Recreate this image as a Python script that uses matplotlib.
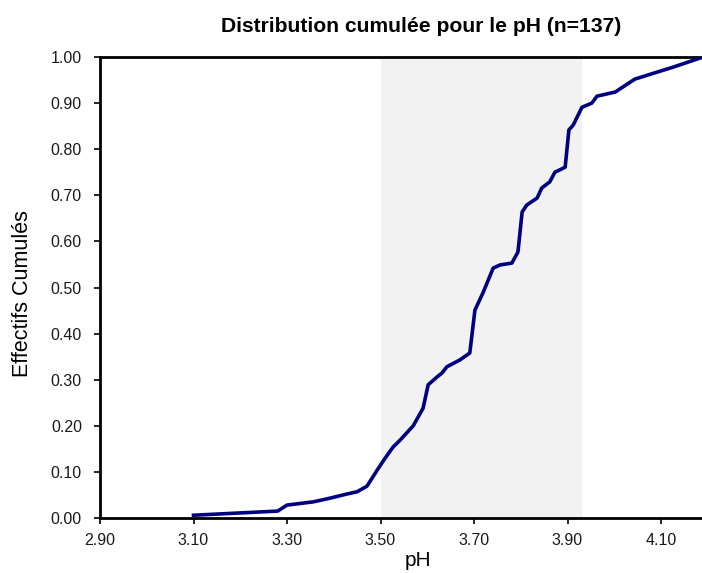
import matplotlib
matplotlib.use("Agg")
import matplotlib.pyplot as plt

# Cumulative distribution of pH readings
ph_values = [3.10, 3.28, 3.30, 3.356, 3.392, 3.428, 3.45, 3.471, 3.493, 3.51,
             3.527, 3.542, 3.57, 3.591, 3.602, 3.621, 3.632, 3.642, 3.67, 3.691,
             3.702, 3.719, 3.741, 3.756, 3.781, 3.794, 3.803, 3.813, 3.835, 3.845,
             3.862, 3.873, 3.895, 3.903, 3.912, 3.931, 3.952, 3.963, 4.002, 4.044,
             4.091, 4.126, 4.19]
cum_freq = [0.006, 0.015, 0.028, 0.035, 0.043, 0.052, 0.057, 0.069, 0.104, 0.13,
            0.154, 0.169, 0.20, 0.238, 0.289, 0.306, 0.315, 0.328, 0.343, 0.358,
            0.451, 0.488, 0.542, 0.549, 0.553, 0.577, 0.664, 0.679, 0.694, 0.716,
            0.729, 0.750, 0.761, 0.842, 0.852, 0.891, 0.900, 0.915, 0.924, 0.952,
            0.967, 0.978, 1.0]

# Reference range band
band_lo, band_hi = 3.50, 3.93

x_ticks = [2.90, 3.10, 3.30, 3.50, 3.70, 3.90, 4.10]
y_ticks = [0.0, 0.1, 0.2, 0.3, 0.4, 0.5, 0.6, 0.7, 0.8, 0.9, 1.0]

plt.rcParams["font.family"] = ["Liberation Sans", "DejaVu Sans"]

fig = plt.figure(figsize=(7.02, 5.73), dpi=100)
ax = fig.add_axes([100 / 702, 1 - 518 / 573, 602 / 702, 461 / 573])

ax.axvspan(band_lo, band_hi, color="#f2f2f2", zorder=0, lw=0)
ax.plot(ph_values, cum_freq, color="#000080", lw=2.6, zorder=3,
        solid_joinstyle="round")

ax.set_xlim(2.90, 2.90 + 602 / 467.5)
ax.set_ylim(0, 1.0)
ax.set_xticks(x_ticks)
ax.set_xticklabels([f"{v:.2f}" for v in x_ticks])
ax.set_yticks(y_ticks)
ax.set_yticklabels([f"{v:.2f}" for v in y_ticks])

for side in ("top", "left", "bottom"):
    ax.spines[side].set_linewidth(2.0)
    ax.spines[side].set_color("black")
ax.spines["right"].set_visible(False)

ax.tick_params(axis="both", direction="out", length=4.5, width=1.2,
               labelsize=11.5, labelcolor="#1a1a1a")
ax.tick_params(axis="y", pad=8.5)
ax.tick_params(axis="x", pad=6)

ax.set_xlabel("pH", fontsize=15, va="center")
ax.xaxis.set_label_coords((418 - 100) / 602, (518 - 561) / 461)
ax.set_ylabel("Effectifs Cumulés", fontsize=15.5, va="center")
ax.yaxis.set_label_coords((23 - 100) / 602, (518 - 294) / 461)

fig.text(421 / 702, 1 - 27 / 573, "Distribution cumulée pour le pH (n=137)",
         ha="center", va="center", fontsize=15.2, fontweight="bold")

fig.savefig("out.png", dpi=100)
